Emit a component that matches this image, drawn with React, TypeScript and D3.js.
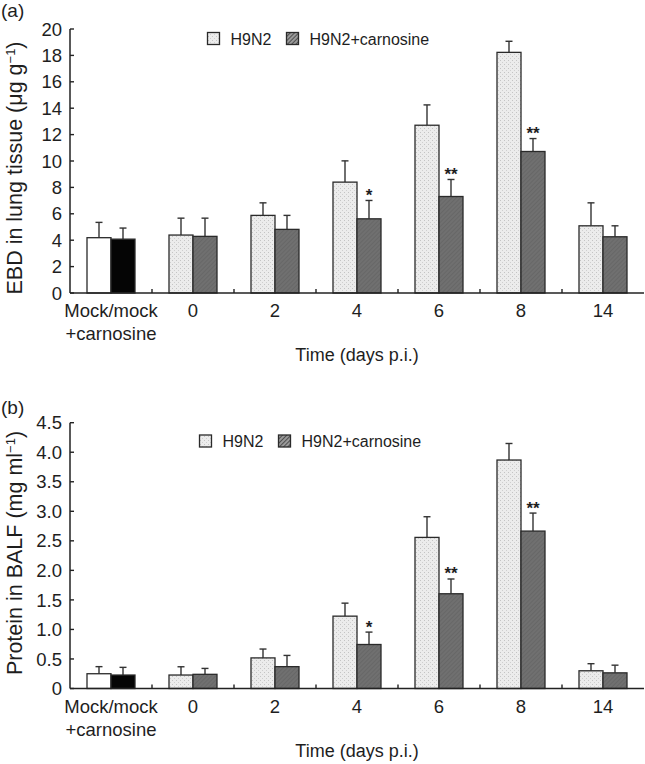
import React from "react";
import * as d3 from "d3";

const categories = ["Mock/mock\n+carnosine", "0", "2", "4", "6", "8", "14"];
const seriesNames = ["H9N2", "H9N2+carnosine"];

const ebdH9N2 = [4.19, 4.39, 5.88, 8.4, 12.71, 18.23, 5.09];
const ebdH9N2Sd = [1.16, 1.28, 0.95, 1.61, 1.54, 0.84, 1.74];
const ebdCarn = [4.08, 4.29, 4.82, 5.62, 7.31, 10.72, 4.26];
const ebdCarnSd = [0.84, 1.38, 1.06, 1.39, 1.29, 0.98, 0.83];
const ebdTicks = [0, 2, 4, 6, 8, 10, 12, 14, 16, 18, 20];

const protH9N2 = [0.25, 0.228, 0.518, 1.225, 2.558, 3.868, 0.3];
const protH9N2Sd = [0.12, 0.14, 0.15, 0.22, 0.35, 0.28, 0.12];
const protCarn = [0.228, 0.24, 0.37, 0.745, 1.604, 2.665, 0.265];
const protCarnSd = [0.13, 0.1, 0.19, 0.21, 0.25, 0.305, 0.13];
const protTicks = [0, 0.5, 1, 1.5, 2, 2.5, 3, 3.5, 4, 4.5];

const significance = ["", "", "", "*", "**", "**", ""];

const FONT = "'Liberation Sans', Arial, Helvetica, sans-serif";
const INK = "#1e1e1e";

type PanelProps = {
  top: number;
  bottom: number;
  yMax: number;
  ticks: number[];
  fmt: (v: number) => string;
  h9: number[];
  h9sd: number[];
  ca: number[];
  casd: number[];
  label: string;
  labelY: number;
  titleMain: string;
  titleUnit: string;
  titleUnitTail: string;
  legendX: number;
  legendY: number;
  titleCenterY: number;
};

function Panel(p: PanelProps) {
  const left = 70;
  const right = 644;
  const x0 = d3.scaleBand<string>().domain(categories).range([left, right]).padding(0);
  const x1 = d3.scaleBand<string>().domain(seriesNames).range([17, 65]).padding(0);
  const y = d3.scaleLinear().domain([0, p.yMax]).range([p.bottom, p.top]);
  const bw = x1.bandwidth();
  const capW = 3.5;

  const bars: any[] = [];
  categories.forEach((c, i) => {
    const isMock = i === 0;
    const vals = [
      { s: seriesNames[0], v: p.h9[i], sd: p.h9sd[i], fill: isMock ? "#ffffff" : "url(#dots)" },
      { s: seriesNames[1], v: p.ca[i], sd: p.casd[i], fill: isMock ? "#050505" : "url(#hatch)" },
    ];
    vals.forEach((d, j) => {
      const bx = (x0(c) as number) + (x1(d.s) as number);
      const cx = bx + bw / 2;
      const yTop = y(d.v);
      const yErr = y(d.v + d.sd);
      bars.push(
        <g key={`${c}-${j}`}>
          <line x1={cx} x2={cx} y1={yTop} y2={yErr} stroke="#333" strokeWidth={1.4} />
          <line x1={cx - capW} x2={cx + capW} y1={yErr} y2={yErr} stroke="#333" strokeWidth={1.4} />
          <rect x={bx} y={yTop} width={bw} height={p.bottom - yTop} fill={d.fill} stroke="#2a2a2a" strokeWidth={1.3} />
          {j === 1 && significance[i] ? (
            <text x={cx} y={yErr + 0.5} textAnchor="middle" fontFamily={FONT} fontSize={17} fontWeight="bold" fill={INK}>
              {significance[i]}
            </text>
          ) : null}
        </g>
      );
    });
  });

  const boundaries = categories.slice(1).map((c) => x0(c) as number);

  return (
    <g>
      <text x={1} y={p.labelY} fontFamily={FONT} fontSize={19} fill={INK}>
        {p.label}
      </text>
      {bars}
      <line x1={left} x2={left} y1={p.top} y2={p.bottom} stroke="#222" strokeWidth={1.5} />
      <line x1={left} x2={right} y1={p.bottom} y2={p.bottom} stroke="#222" strokeWidth={1.5} />
      {p.ticks.map((t) => (
        <g key={t}>
          <line x1={left} x2={left + 4} y1={y(t)} y2={y(t)} stroke="#222" strokeWidth={1.4} />
          <text x={62} y={y(t)} dy="0.36em" textAnchor="end" fontFamily={FONT} fontSize={18.5} fill={INK}>
            {p.fmt(t)}
          </text>
        </g>
      ))}
      {boundaries.map((bx, i) => (
        <line key={i} x1={bx} x2={bx} y1={p.bottom} y2={p.bottom - 4} stroke="#222" strokeWidth={1.4} />
      ))}
      {categories.map((c) => {
        const lines = c.split("\n");
        const cx = (x0(c) as number) + x0.bandwidth() / 2;
        return (
          <text key={c} x={cx} y={p.bottom + 24} textAnchor="middle" fontFamily={FONT} fontSize={18.5} fill={INK}>
            {lines.map((l, k) => (
              <tspan key={k} x={cx} dy={k === 0 ? 0 : 23}>
                {l}
              </tspan>
            ))}
          </text>
        );
      })}
      <text x={357} y={p.bottom + 68} textAnchor="middle" fontFamily={FONT} fontSize={18} fill={INK}>
        Time (days p.i.)
      </text>
      <text
        transform={`translate(22, ${p.titleCenterY}) rotate(-90)`}
        textAnchor="middle"
        fontFamily={FONT}
        fontSize={21.5}
        fill={INK}
      >
        {p.titleMain}
        {p.titleUnit}
        <tspan fontSize={13} dy={-7}>
          −1
        </tspan>
        <tspan dy={7}>{p.titleUnitTail}</tspan>
      </text>
      <rect x={p.legendX} y={p.legendY} width={12} height={12} fill="url(#dots)" stroke="#2a2a2a" strokeWidth={1.3} />
      <text x={p.legendX + 23} y={p.legendY + 12} fontFamily={FONT} fontSize={16} fill={INK}>
        H9N2
      </text>
      <rect x={p.legendX + 79} y={p.legendY} width={12} height={12} fill="url(#legendHatch)" stroke="#2a2a2a" strokeWidth={1.3} />
      <text x={p.legendX + 102} y={p.legendY + 12} fontFamily={FONT} fontSize={16} fill={INK}>
        H9N2+carnosine
      </text>
    </g>
  );
}

export default function App() {
  return (
    <div style={{ position: "absolute", left: 0, top: 0 }}>
      <svg width={645} height={764} style={{ display: "block", background: "#fff" }}>
        <defs>
          <pattern id="dots" width={4} height={4} patternUnits="userSpaceOnUse">
            <rect width={4} height={4} fill="#ececec" />
            <rect x={0} y={0} width={1} height={1} fill="#c4c4c4" />
            <rect x={2} y={2} width={1} height={1} fill="#cfcfcf" />
          </pattern>
          <pattern id="hatch" width={3} height={3} patternUnits="userSpaceOnUse" patternTransform="rotate(45)">
            <rect width={3} height={3} fill="#707070" />
            <line x1={0} y1={0} x2={0} y2={3} stroke="#5e5e5e" strokeWidth={1} />
          </pattern>
          <pattern id="legendHatch" width={3} height={3} patternUnits="userSpaceOnUse" patternTransform="rotate(45)">
            <rect width={3} height={3} fill="#9a9a9a" />
            <line x1={0} y1={0} x2={0} y2={3} stroke="#2e2e2e" strokeWidth={1.4} />
          </pattern>
        </defs>
        <Panel
          top={29}
          bottom={293}
          yMax={20}
          ticks={ebdTicks}
          fmt={(v) => String(v)}
          h9={ebdH9N2}
          h9sd={ebdH9N2Sd}
          ca={ebdCarn}
          casd={ebdCarnSd}
          label="(a)"
          labelY={17}
          titleMain="EBD in lung tissue "
          titleUnit="(μg g"
          titleUnitTail=")"
          legendX={207.5}
          legendY={32.5}
          titleCenterY={168}
        />
        <Panel
          top={422.7}
          bottom={688.5}
          yMax={4.5}
          ticks={protTicks}
          fmt={(v) => (v === 0 ? "0" : v.toFixed(1))}
          h9={protH9N2}
          h9sd={protH9N2Sd}
          ca={protCarn}
          casd={protCarnSd}
          label="(b)"
          labelY={414}
          titleMain="Protein in BALF "
          titleUnit="(mg ml"
          titleUnitTail=")"
          legendX={199.5}
          legendY={435}
          titleCenterY={553}
        />
      </svg>
    </div>
  );
}
